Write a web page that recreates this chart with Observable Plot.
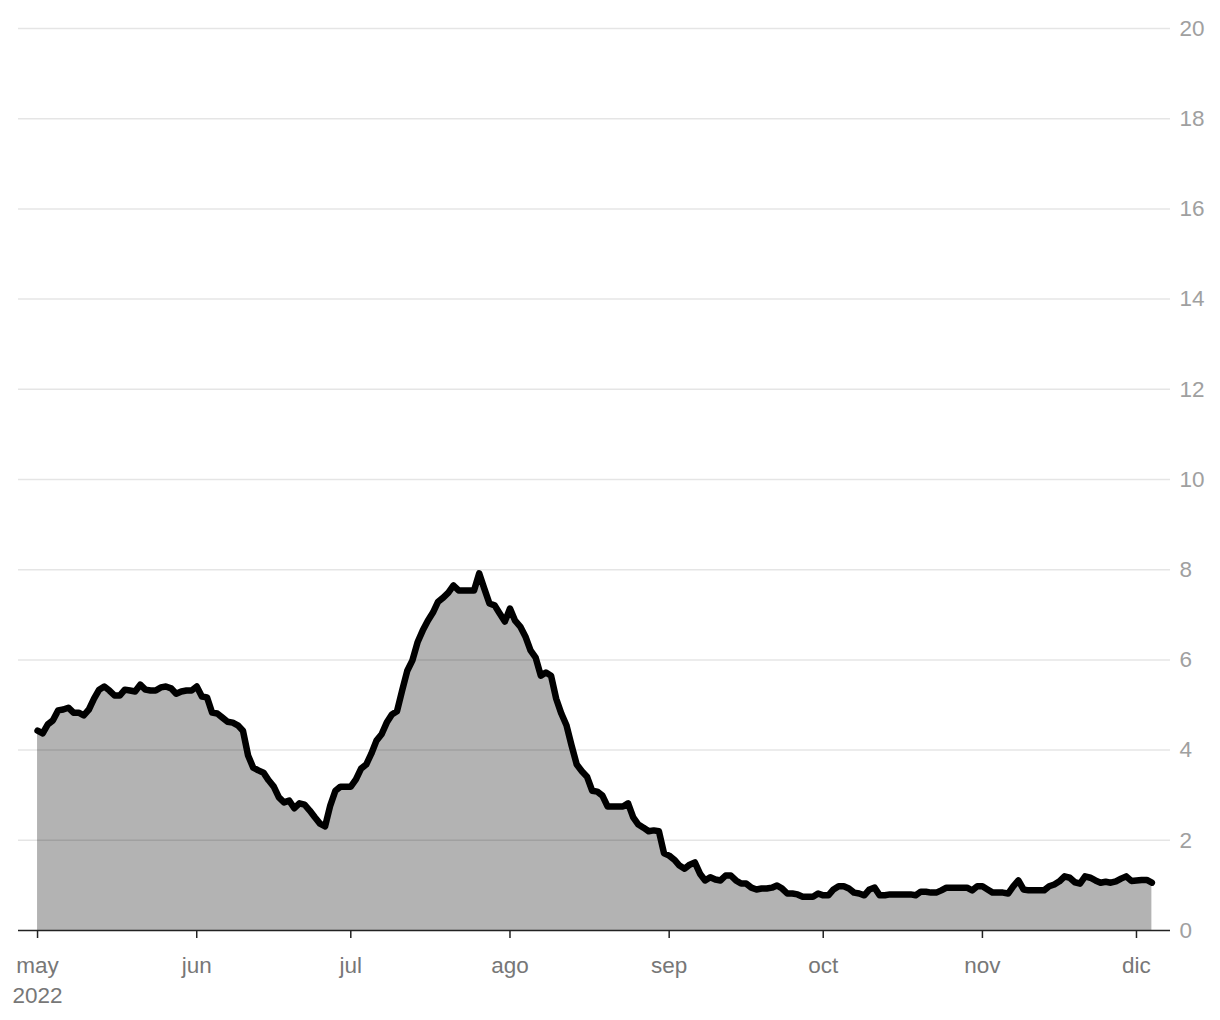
<!DOCTYPE html>
<html><head><meta charset="utf-8">
<script src="https://cdn.jsdelivr.net/npm/d3@7"></script>
<script src="https://cdn.jsdelivr.net/npm/@observablehq/plot@0.6"></script>
<style>body{margin:0;background:#fff}</style>
</head><body><div id="chart"></div>
<script>
// Daily values from 2022-05-01
const valuesMay = [4.43,4.37,4.57,4.66,4.88,4.90,4.94,4.83,4.83,4.77,4.90,5.14,5.34,5.41,5.32,5.21,5.21,5.34,5.32,5.30,5.45,5.34,5.32,5.32,5.39,5.41,5.37,5.25,5.30,5.32,5.32];
const valuesJun = [5.41,5.19,5.17,4.83,4.81,4.72,4.63,4.61,4.55,4.43,3.88,3.61,3.55,3.50,3.33,3.19,2.95,2.84,2.88,2.71,2.82,2.79,2.66,2.51,2.37,2.31,2.77,3.10,3.19,3.19];
const valuesJul = [3.19,3.35,3.59,3.68,3.92,4.21,4.35,4.61,4.79,4.86,5.32,5.76,5.99,6.39,6.65,6.87,7.05,7.29,7.38,7.49,7.65,7.54,7.54,7.54,7.54,7.92,7.58,7.25,7.21,7.03,6.85];
const valuesAgo = [7.14,6.87,6.74,6.52,6.21,6.05,5.65,5.72,5.65,5.14,4.81,4.55,4.10,3.68,3.53,3.41,3.10,3.08,2.99,2.75,2.75,2.75,2.75,2.82,2.51,2.35,2.28,2.20,2.22,2.20,1.71];
const valuesSep = [1.66,1.57,1.44,1.37,1.46,1.51,1.26,1.11,1.18,1.13,1.11,1.22,1.22,1.11,1.04,1.04,0.95,0.91,0.93,0.93,0.95,1.00,0.93,0.82,0.82,0.80,0.75,0.75,0.75,0.82];
const valuesOct = [0.78,0.78,0.91,0.98,0.98,0.93,0.84,0.82,0.78,0.91,0.95,0.78,0.78,0.80,0.80,0.80,0.80,0.80,0.78,0.86,0.86,0.84,0.84,0.89,0.95,0.95,0.95,0.95,0.95,0.89,0.98];
const valuesNov = [0.98,0.91,0.84,0.84,0.84,0.82,0.98,1.11,0.91,0.89,0.89,0.89,0.89,0.98,1.02,1.09,1.20,1.17,1.07,1.04,1.20,1.17,1.11,1.06,1.08,1.06,1.09,1.15,1.20,1.10];
const valuesDic = [1.11,1.12,1.12,1.06];

const monthLabels = ["may\n2022","jun","jul","ago","sep","oct","nov","dic"];
const yTicks = [0,2,4,6,8,10,12,14,16,18,20];

const values = [].concat(valuesMay, valuesJun, valuesJul, valuesAgo, valuesSep, valuesOct, valuesNov, valuesDic);
const data = values.map((v, i) => ({date: new Date(Date.UTC(2022, 4, 1 + i)), value: v}));
const tickDates = monthLabels.map((_, i) => new Date(Date.UTC(2022, 4 + i, 1)));

const chart = Plot.plot({
  width: 1220,
  height: 1020,
  marginLeft: 18,
  marginRight: 50,
  marginTop: 28,
  marginBottom: 90,
  style: {fontFamily: "'Liberation Sans', Arial, sans-serif", fontSize: "22.5px", background: "#fff"},
  x: {type: "utc", domain: [new Date(Date.UTC(2022, 3, 27, 7)), new Date(Date.UTC(2022, 11, 7, 15))]},
  y: {domain: [0, 20]},
  marks: [
    Plot.areaY(data, {x: "date", y: "value", fill: "#b3b3b3"}),
    Plot.ruleY(yTicks.filter(d => d > 0), {stroke: "#000", strokeOpacity: 0.1, strokeWidth: 1.5}),
    Plot.lineY(data, {x: "date", y: "value", stroke: "#000", strokeWidth: 6.5, strokeLinejoin: "round", strokeLinecap: "round"}),
    Plot.ruleY([0], {stroke: "#222", strokeWidth: 1.5}),
    Plot.axisY({anchor: "right", ticks: yTicks, tickSize: 0, tickPadding: 9, fill: "#a0a0a0", label: null}),
    Plot.axisX({ticks: tickDates, tickFormat: d => monthLabels[d.getUTCMonth() - 4], tickSize: 8, tickPadding: 13, lineHeight: 1.33, stroke: "#222", strokeWidth: 1.5, fill: "#777", label: null})
  ]
});
document.getElementById("chart").appendChild(chart);
</script>
</body></html>
